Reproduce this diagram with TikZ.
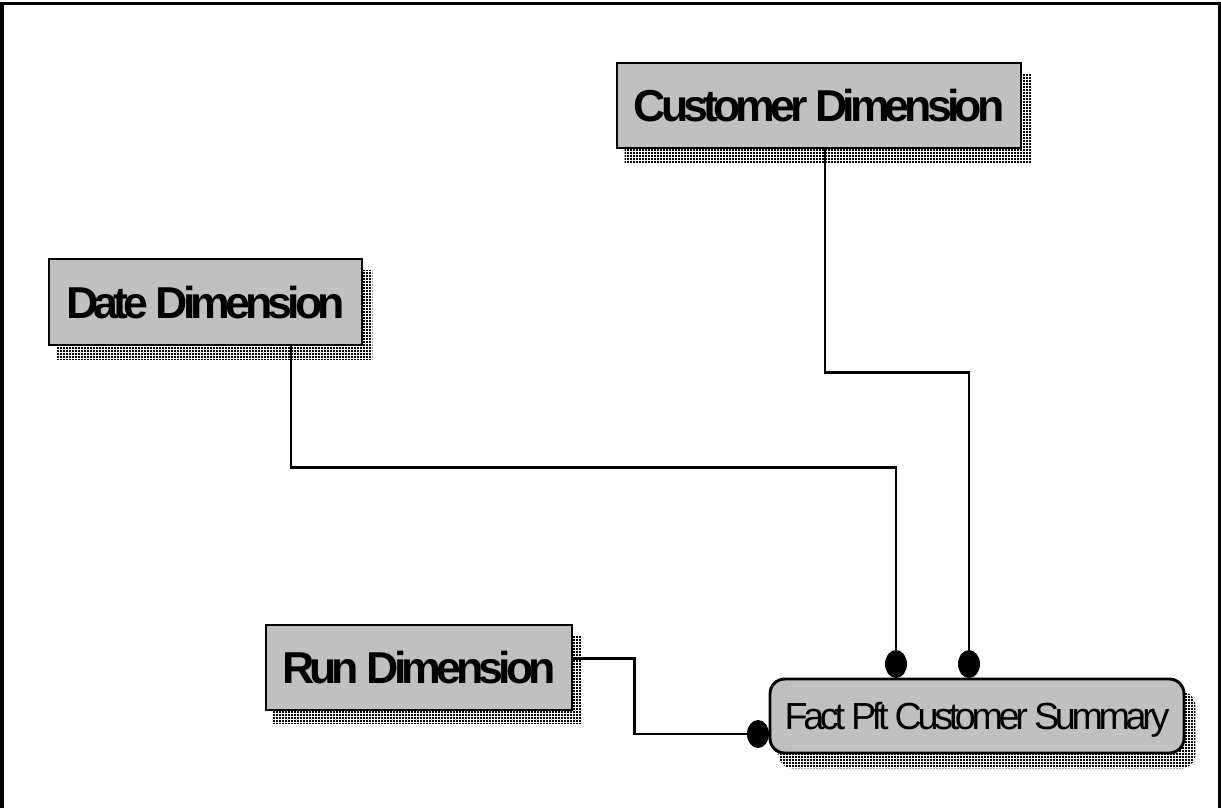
\documentclass[tikz,border=0pt]{standalone}
\usepackage{fontspec}
\setmainfont{Liberation Sans}
\newfontfamily\tightbold[LetterSpace=-11]{Liberation Sans}
\newfontfamily\tightreg[LetterSpace=-11.5]{Liberation Sans}
\usetikzlibrary{shapes.geometric,patterns.meta,backgrounds,calc}
\definecolor{boxgray}{RGB}{192,192,192}
\tikzdeclarepattern{name=shadowdots, type=uncolored,
  bottom left={(0pt,0pt)}, top right={(2.25pt,2.25pt)}, tile size={(2.25pt,2.25pt)},
  code={\fill (0.15pt,0.15pt) rectangle (1.75pt,1.75pt);}}
\begin{document}
\begin{tikzpicture}[x=0.75pt,y=-0.75pt,
 dimbox/.style={draw=black, line width=2.2pt, fill=boxgray, rectangle, inner sep=0pt,
   text height=24pt, text depth=0pt, font=\tightbold\fontsize{33.5}{36}\selectfont\bfseries},
 factbox/.style={draw=black, line width=2.2pt, fill=boxgray, rectangle, rounded corners=11pt,
   inner sep=0pt, text height=20.25pt, text depth=0pt, font=\tightreg\fontsize{28.3}{32}\selectfont},
 shadowfill/.style={pattern=shadowdots, pattern color=black},
 conn/.style={line width=2.2pt},
 dot/.style={ellipse, fill=black, draw=none, inner sep=0pt, minimum width=16.5pt, minimum height=21pt}]
\useasboundingbox (0,0) rectangle (1221,808);
% frame (no bottom edge)
\draw[line width=2.3pt] (2,808) -- (2,3.5) -- (1219.5,3.5) -- (1219.5,808);

% boxes
\node[dimbox, minimum width=303pt, minimum height=63.75pt] (cust) at (819,105.5) {Customer Dimension};
\node[dimbox, minimum width=234.75pt, minimum height=64.5pt] (date) at (205.5,302) {Date Dimension};
\node[dimbox, minimum width=229.5pt, minimum height=63.75pt] (run) at (419,667.5) {Run Dimension};
\node[factbox, minimum width=310.5pt, minimum height=55.5pt] (fact) at (977,716) {Fact Pft Customer Summary};

% shadows
\begin{scope}[on background layer]
\fill[shadowfill] ([shift={(9,13)}]cust.south west) rectangle ([shift={(9,13)}]cust.north east);
\fill[shadowfill] ([shift={(9,13)}]date.south west) rectangle ([shift={(9,13)}]date.north east);
\fill[shadowfill] ([shift={(8,12)}]run.south west) rectangle ([shift={(8,12)}]run.north east);
\fill[shadowfill, rounded corners=11pt] ([shift={(10,14)}]fact.south west) rectangle ([shift={(10,14)}]fact.north east);
\end{scope}

% connector ends
\node[dot] (d1) at (896,664) {};
\node[dot] (d2) at (969,664) {};
\node[dot] (d3) at (758,734) {};

% connectors
\draw[conn] ([xshift=4.5pt]cust.south) -- ++(0,223) -| (d2.north);
\draw[conn] ([xshift=64.1pt]date.south) -- ++(0,121) -| (d1.north);
\draw[conn] ([yshift=7.1pt]run.east) -- ++(61,0) |- (d3.west);
\end{tikzpicture}
\end{document}
